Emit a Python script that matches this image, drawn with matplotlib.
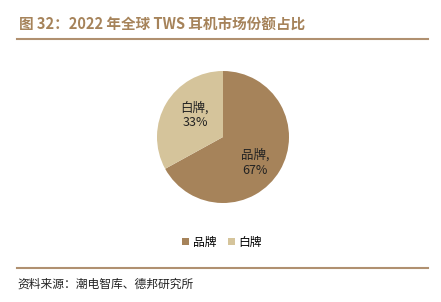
import matplotlib
matplotlib.use("Agg")
import numpy as np
import matplotlib.pyplot as plt
from matplotlib.patches import Patch

plt.rcParams['font.family'] = ['Noto Sans CJK SC', 'DejaVu Sans']

categories = ['品牌', '白牌']
shares = [67, 33]
colors = ['#A6835A', '#D5C49B']

title = '图 32：2022 年全球 TWS 耳机市场份额占比'
source = '资料来源：潮电智库、德邦研究所'

W, H = 441, 302
fig = plt.figure(figsize=(W / 100, H / 100), dpi=100)

# header / footer
fig.text(19 / W, 1 - 25 / H, title, fontsize=10.5, fontweight='bold',
         color='#A6835A', va='center', ha='left')
fig.add_artist(plt.Line2D([17 / W, 428 / W], [1 - 39 / H] * 2,
                          color='#B09070', lw=1.5))
fig.add_artist(plt.Line2D([17 / W, 428 / W], [1 - 268 / H] * 2,
                          color='#B09070', lw=1.5))
fig.text(17 / W, 1 - 284 / H, source, fontsize=8.5, color='#222222',
         va='center', ha='left')

# pie
cx, cy, r = 223, 137, 66
ax = fig.add_axes([(cx - r) / W, 1 - (cy + r) / H, 2 * r / W, 2 * r / H])
labels = [f'{c},\n{v}%' for c, v in zip(categories, shares)]
wedges, texts = ax.pie(shares, colors=colors, startangle=90, counterclock=False,
                       labels=labels, labeldistance=0.58, radius=1,
                       textprops=dict(fontsize=9, color='#222222', ha='center',
                                      va='center', linespacing=1.2))
# nudge labels to where the original puts them
for t, ang, dist in zip(texts, [-39, 142], [0.62, 0.54]):
    a = np.deg2rad(ang)
    t.set_position((dist * np.cos(a), dist * np.sin(a)))
ax.set_xlim(-1, 1)
ax.set_ylim(-1, 1)
ax.set_aspect('equal')

handles = [Patch(facecolor=c, edgecolor='none') for c in colors]
fig.legend(handles, categories, loc='center', bbox_to_anchor=(222 / W, 1 - 242 / H),
           ncol=2, frameon=False, fontsize=8.5, handlelength=0.6, handleheight=0.6,
           handletextpad=0.3, columnspacing=1.0)

fig.savefig('out.png', dpi=100)
